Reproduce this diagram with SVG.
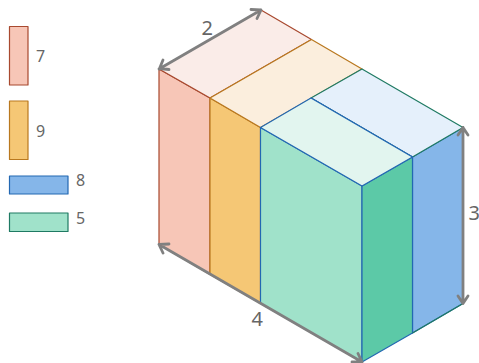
<svg xmlns="http://www.w3.org/2000/svg" width="479" height="363" viewBox="0 0 479 363">
<style>
.r{stroke:#a8492f;stroke-width:1.2;stroke-linejoin:round}
.o{stroke:#b9781f;stroke-width:1.2;stroke-linejoin:round}
.b{stroke:#2368b2;stroke-width:1.2;stroke-linejoin:round}
.g{stroke:#1f7a63;stroke-width:1.2;stroke-linejoin:round}
.d{fill:none;stroke:#808080;stroke-width:2.8;stroke-linecap:round;stroke-linejoin:round}
text{font-family:"Noto Sans","DejaVu Sans",sans-serif;fill:#666666}
.l{font-size:16px}
.m{font-size:20px}
</style>
<g id="legend-7"><rect class="r" x="9.500" y="26.500" width="18.500" height="58.500" fill="#f7c6b7"/><text class="l" x="36" y="61.500">7</text></g>
<g id="legend-9"><rect class="o" x="9.500" y="101" width="18.500" height="58.500" fill="#f5c775"/><text class="l" x="36" y="137">9</text></g>
<g id="legend-8"><rect class="b" x="9.500" y="176" width="58.500" height="18" fill="#85b6e9"/><text class="l" x="76" y="186">8</text></g>
<g id="legend-5"><rect class="g" x="9.500" y="213" width="58.500" height="18.500" fill="#a0e2ca"/><text class="l" x="76" y="223.500">5</text></g>
<g id="block-7">
<polygon class="r" points="159,69 210,98 210,274.500 159,244.500" fill="#f7c6b7"/>
<polygon class="r" points="159,69 261,10 311.500,39.500 210,98" fill="#faece8"/>
</g>
<g id="block-9">
<polygon class="o" points="210,98 260.500,127.500 260.500,303.500 210,274.500" fill="#f5c775"/>
<polygon class="o" points="210,98 311.500,39.500 362,69 260.500,127.500" fill="#fbeedd"/>
</g>
<g id="block-8">
<polygon class="b" points="412.500,157 463,127.500 463,303.500 412.500,333" fill="#85b6e9"/>
<polygon class="g" points="311,98 362,69 463,127.500 412.500,157" fill="#e5f0fb"/>
<path class="b" fill="none" d="M311,98 412.500,157"/>
</g>
<g id="block-5">
<polygon class="b" points="260.500,127.500 362,186 362,362 260.500,303.500" fill="#a0e2ca"/>
<polygon class="b" points="362,186 412.500,157 412.500,333 362,362" fill="#5cc9a7"/>
<polygon class="b" points="260.500,127.500 311,98 412.500,157 362,186" fill="#e2f5ef"/>
<path class="g" fill="none" d="M412.500,333 463,303.500"/>
</g>
<g id="connectors">
<path class="d" d="M159,69 261,10M159.500,68.500 169,69.500M159.500,68.500 163,60M261,10 251,9.500M261,10 257,18.500"/>
<path class="d" d="M463,127.500V303.500M463,127.500 458,135M463,127.500 468,135M463,303.500 458,296M463,303.500 468,296"/>
<path class="d" d="M159,244.500 362,362M159,244.500 169,244M159,244.500 163,253M362,362 352,362M362,362 358,353.500"/>
</g>
<g id="labels">
<text class="m" x="201.500" y="34.500">2</text>
<text class="m" x="468.500" y="220">3</text>
<text class="m" x="251.500" y="326">4</text>
</g>
</svg>
